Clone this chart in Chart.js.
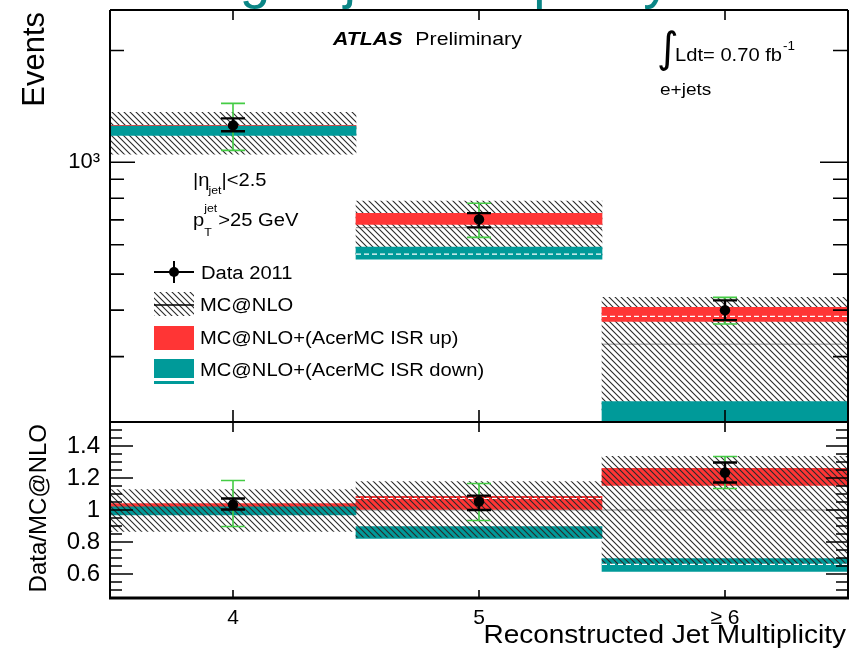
<!DOCTYPE html>
<html>
<head>
<meta charset="utf-8">
<script src="https://cdn.jsdelivr.net/npm/chart.js@4.4.0/dist/chart.umd.min.js"></script>
<style>
  html, body { margin: 0; padding: 0; background: #ffffff; }
  #wrap { position: relative; width: 856px; height: 656px; overflow: hidden; }
  #wrap canvas { position: absolute; left: 0; top: 0; }
</style>
</head>
<body>
<div id="wrap">
  <canvas id="events" width="856" height="656"></canvas>
  <canvas id="ratio" width="856" height="656"></canvas>
</div>
<script>
// ---- jet multiplicity bins ----
const categories = ['4', '5', '\u2265 6'];

// ---- upper panel: event counts ----
const dataEvents   = [1257, 702, 400];
const dataStatLow  = [1212, 668, 376];
const dataStatHigh = [1313, 730, 425];
const dataTotLow   = [1077, 628, 367];
const dataTotHigh  = [1441, 776, 433];
const mcCentral    = [1215, 667, 324];
const mcBandLow    = [1051, 553, 214];
const mcBandHigh   = [1363, 787, 433];
const isrUpLow     = [1240, 681, 373];
const isrUpHigh    = [1258, 729, 407];
const isrUpLine    = [null, null, 385];
const isrDownLow   = [1182, 549, 200];
const isrDownHigh  = [1251, 591, 227];
const isrDownLine  = [null, 566, null];

// ---- lower panel: Data / MC@NLO ----
const ratioData     = [1.034, 1.053, 1.234];
const ratioStatLow  = [1.003, 1.000, 1.172];
const ratioStatHigh = [1.072, 1.090, 1.297];
const ratioTotLow   = [0.897, 0.934, 1.134];
const ratioTotHigh  = [1.184, 1.166, 1.334];
const ratioMcCentral = [1.0, 1.0, 1.0];
const ratioMcLow    = [0.866, 0.830, 0.660];
const ratioMcHigh   = [1.128, 1.178, 1.335];
const ratioUpLow    = [1.020, 1.003, 1.153];
const ratioUpHigh   = [1.040, 1.085, 1.260];
const ratioUpLine   = [null, 1.072, null];
const ratioDownLow  = [0.970, 0.822, 0.616];
const ratioDownHigh = [1.020, 0.897, 0.697];
const ratioDownLine = [null, null, 0.660];

// ---- axis ticks ----
const eventsTicksMajor = [1000];
const eventsTicksMinor = [300, 400, 500, 600, 700, 800, 900, 2000];
const ratioTicksMajor  = [0.6, 0.8, 1, 1.2, 1.4];
const ratioTicksMinor  = [0.5, 0.55, 0.65, 0.7, 0.75, 0.85, 0.9, 0.95, 1.05, 1.1, 1.15, 1.25, 1.3, 1.35, 1.45, 1.5];

const FONT = "'Liberation Sans', Arial, Helvetica, sans-serif";
const SX = 1.12;                 // horizontal text stretch
const RED = '#ff3535';
const TEAL = '#009a99';
const GREEN = '#44cc44';
const HEADING = '#0b8686';

const pairs = (lo, hi) => lo.map((v, i) => [v, hi[i]]);

function hatchPattern() {
  const c = document.createElement('canvas');
  c.width = 6; c.height = 6;
  const g = c.getContext('2d');
  g.strokeStyle = '#2a2a2a';
  g.lineWidth = 1.1;
  g.beginPath();
  g.moveTo(-1, -1); g.lineTo(7, 7);
  g.moveTo(-1, 5);  g.lineTo(1, 7);
  g.moveTo(5, -1);  g.lineTo(7, 1);
  g.stroke();
  return g.createPattern(c, 'repeat');
}
const HATCH = hatchPattern();

function put(ctx, text, x, y, o = {}) {
  const size = o.size || 18;
  const sx = o.sx === undefined ? SX : o.sx;
  ctx.save();
  ctx.font = `${o.style || 'normal'} ${o.weight || 'normal'} ${size}px ${o.family || FONT}`;
  ctx.fillStyle = o.color || '#000';
  ctx.textAlign = o.align || 'left';
  ctx.textBaseline = 'alphabetic';
  ctx.translate(x, y);
  if (o.rotate) ctx.rotate(o.rotate);
  ctx.scale(sx, 1);
  ctx.fillText(text, 0, 0);
  const w = ctx.measureText(text).width * sx;
  ctx.restore();
  return w;
}

// keep the plot frame exactly where the layout padding puts it
function fixedAxis(size, vertical) {
  return function (s) {
    if (vertical) s.width = size; else s.height = size;
    s.paddingTop = 0; s.paddingBottom = 0; s.paddingLeft = 0; s.paddingRight = 0;
  };
}

function binHalf(x) {
  return Math.abs(x.getPixelForValue(1) - x.getPixelForValue(0)) / 2;
}

function hline(ctx, x0, x1, y, color, width, dash) {
  ctx.save();
  ctx.strokeStyle = color;
  ctx.lineWidth = width;
  ctx.setLineDash(dash || []);
  ctx.beginPath();
  ctx.moveTo(x0, y); ctx.lineTo(x1, y);
  ctx.stroke();
  ctx.restore();
}

function errorBar(ctx, px, y0, y1, color, width, cap) {
  ctx.save();
  ctx.strokeStyle = color;
  ctx.lineWidth = width;
  ctx.beginPath();
  ctx.moveTo(px, y0); ctx.lineTo(px, y1);
  ctx.moveTo(px - cap, y0); ctx.lineTo(px + cap, y0);
  ctx.moveTo(px - cap, y1); ctx.lineTo(px + cap, y1);
  ctx.stroke();
  ctx.restore();
}

function drawErrors(chart, totLo, totHi, stLo, stHi) {
  const { ctx, chartArea: a, scales: { x, y } } = chart;
  ctx.save();
  ctx.beginPath(); ctx.rect(a.left, a.top, a.right - a.left, a.bottom - a.top); ctx.clip();
  categories.forEach((c, i) => {
    const px = x.getPixelForValue(i);
    errorBar(ctx, px, y.getPixelForValue(totLo[i]), y.getPixelForValue(totHi[i]), GREEN, 1.6, 12);
    errorBar(ctx, px, y.getPixelForValue(stLo[i]), y.getPixelForValue(stHi[i]), '#000', 2.4, 12);
  });
  ctx.restore();
}

function drawCentral(chart, values, color, width, dash) {
  const { ctx, chartArea: a, scales: { x, y } } = chart;
  const h = binHalf(x);
  ctx.save();
  ctx.beginPath(); ctx.rect(a.left, a.top, a.right - a.left, a.bottom - a.top); ctx.clip();
  values.forEach((v, i) => {
    if (v === null) return;
    const px = x.getPixelForValue(i);
    hline(ctx, px - h, px + h, y.getPixelForValue(v), color, width, dash);
  });
  ctx.restore();
}

function drawFrame(chart, major, minor, o) {
  const { ctx, chartArea: a, scales: { x, y } } = chart;
  ctx.save();
  ctx.strokeStyle = '#000';
  ctx.lineCap = 'butt';
  ctx.lineWidth = 1.6;
  ctx.beginPath();
  major.forEach(v => {
    const py = y.getPixelForValue(v);
    ctx.moveTo(a.left, py); ctx.lineTo(a.left + o.majL, py);
    ctx.moveTo(a.right, py); ctx.lineTo(a.right - o.majR, py);
  });
  minor.forEach(v => {
    const py = y.getPixelForValue(v);
    ctx.moveTo(a.left, py); ctx.lineTo(a.left + o.minL, py);
    ctx.moveTo(a.right, py); ctx.lineTo(a.right - o.minR, py);
  });
  categories.forEach((c, i) => {
    const px = x.getPixelForValue(i);
    ctx.moveTo(px, a.top); ctx.lineTo(px, a.top + o.xTop);
    ctx.moveTo(px, a.bottom); ctx.lineTo(px, a.bottom - o.xBot);
  });
  ctx.stroke();
  ctx.lineWidth = 2;
  ctx.beginPath();
  ctx.moveTo(a.left, a.top); ctx.lineTo(a.right, a.top);
  ctx.moveTo(a.left, a.top); ctx.lineTo(a.left, a.bottom);
  ctx.moveTo(a.right, a.top); ctx.lineTo(a.right, a.bottom);
  ctx.stroke();
  ctx.lineWidth = o.bottomWidth;
  ctx.beginPath();
  ctx.moveTo(a.left - 1, a.bottom); ctx.lineTo(a.right + 1, a.bottom);
  ctx.stroke();
  ctx.restore();
}

const barStyle = { type: 'bar', grouped: false, barPercentage: 1, categoryPercentage: 1, borderWidth: 0 };
const pointStyle = { type: 'line', showLine: false, pointRadius: 5.2, pointHoverRadius: 5.2,
  pointBackgroundColor: '#000', pointBorderColor: '#000', pointBorderWidth: 0, order: 1 };

// ---------------- upper panel ----------------
const eventsPanel = {
  id: 'eventsPanel',
  beforeDatasetsDraw(chart) {
    drawCentral(chart, mcCentral, '#8a8a8a', 1);
  },
  beforeDatasetDraw(chart, args) {
    if (args.meta.type === 'line') drawErrors(chart, dataTotLow, dataTotHigh, dataStatLow, dataStatHigh);
  },
  afterDatasetDraw(chart, args) {
    if (args.index === 2) {
      drawCentral(chart, isrUpLine, '#ffffff', 1.2, [5, 3]);
      drawCentral(chart, isrDownLine, '#ffffff', 1.2, [5, 3]);
    }
  },
  afterDraw(chart) {
    const ctx = chart.ctx;
    drawFrame(chart, eventsTicksMajor, eventsTicksMinor,
      { majL: 25, majR: 28, minL: 14, minR: 15, xTop: 10, xBot: 12, bottomWidth: 2 });

    // slide heading running above the figure
    put(ctx, 'ISR modelling in jet multiplicity', -72, -3, { size: 55, color: HEADING, sx: 1 });

    put(ctx, 'Events', 44, 12, { size: 31, rotate: -Math.PI / 2, align: 'right', sx: 1 });

    const wA = put(ctx, 'ATLAS', 333, 45, { size: 19, weight: 'bold', style: 'italic' });
    put(ctx, 'Preliminary', 333 + wA + 13, 45, { size: 19 });
    put(ctx, '\u222B', 657, 62, { size: 42, family: "'DejaVu Sans', sans-serif", sx: 1 });
    const wL = put(ctx, 'Ldt= 0.70 fb', 675, 61, { size: 18 });
    put(ctx, '-1', 675 + wL + 1, 50, { size: 12 });
    put(ctx, 'e+jets', 660, 95, { size: 17 });

    let cx = 193;
    cx += put(ctx, '|\u03B7', cx, 186, { size: 18 });
    cx += put(ctx, 'jet', cx - 1, 194, { size: 11 });
    put(ctx, '|<2.5', cx - 1, 186, { size: 18 });
    cx = 193;
    cx += put(ctx, 'p', cx, 226, { size: 18 });
    put(ctx, 'T', cx, 236, { size: 11 });
    const wj = put(ctx, 'jet', cx, 212, { size: 11 });
    put(ctx, '>25 GeV', cx + wj + 1, 226, { size: 18 });

    // legend
    ctx.save();
    ctx.strokeStyle = '#000'; ctx.lineWidth = 2;
    ctx.beginPath();
    ctx.moveTo(154, 272); ctx.lineTo(194, 272);
    ctx.moveTo(174, 261); ctx.lineTo(174, 283);
    ctx.stroke();
    ctx.fillStyle = '#000';
    ctx.beginPath(); ctx.arc(174, 272, 5, 0, Math.PI * 2); ctx.fill();
    ctx.fillStyle = HATCH;
    ctx.fillRect(154, 292, 40, 24);
    ctx.beginPath(); ctx.moveTo(154, 305); ctx.lineTo(194, 305);
    ctx.lineWidth = 1.6; ctx.strokeStyle = '#000'; ctx.stroke();
    ctx.fillStyle = RED;
    ctx.fillRect(154, 326, 40, 24);
    ctx.fillStyle = TEAL;
    ctx.fillRect(154, 359, 40, 19);
    ctx.fillRect(154, 381, 40, 3);
    ctx.restore();
    put(ctx, 'Data 2011', 201, 279, { size: 18 });
    put(ctx, 'MC@NLO', 200, 311, { size: 18 });
    put(ctx, 'MC@NLO+(AcerMC ISR up)', 200, 344, { size: 18 });
    put(ctx, 'MC@NLO+(AcerMC ISR down)', 200, 376, { size: 18 });
  }
};

new Chart(document.getElementById('events'), {
  data: {
    labels: categories,
    datasets: [
      { ...barStyle, label: 'MC@NLO', data: pairs(mcBandLow, mcBandHigh), backgroundColor: HATCH, order: 5 },
      { ...barStyle, label: 'MC@NLO+(AcerMC ISR up)', data: pairs(isrUpLow, isrUpHigh), backgroundColor: RED, order: 4 },
      { ...barStyle, label: 'MC@NLO+(AcerMC ISR down)', data: pairs(isrDownLow, isrDownHigh), backgroundColor: TEAL, order: 3 },
      { ...pointStyle, label: 'Data 2011', data: dataEvents }
    ]
  },
  options: {
    responsive: false, animation: false, devicePixelRatio: 1,
    layout: { padding: { left: 50, right: 8, top: 10, bottom: 234 } },
    plugins: { legend: { display: false }, tooltip: { enabled: false }, title: { display: false } },
    scales: {
      x: { type: 'category', offset: true, display: false },
      y: {
        type: 'logarithmic', min: 200, max: 2570, position: 'left',
        grid: { display: false, drawTicks: false }, border: { display: false },
        afterFit: fixedAxis(60, true),
        afterBuildTicks(s) { s.ticks = eventsTicksMajor.map(v => ({ value: v })); },
        ticks: { padding: 10, color: '#000', font: { family: FONT, size: 22 },
                 callback: v => (v === 1000 ? '10\u00B3' : '') }
      }
    }
  },
  plugins: [eventsPanel]
});

// ---------------- lower panel ----------------
const ratioPanel = {
  id: 'ratioPanel',
  beforeDatasetsDraw(chart) {
    drawCentral(chart, ratioMcCentral, '#8a8a8a', 1);
  },
  beforeDatasetDraw(chart, args) {
    if (args.meta.type === 'line') {
      drawCentral(chart, ratioUpLine, '#ffffff', 1.2, [5, 3]);
      drawCentral(chart, ratioDownLine, '#ffffff', 1.2, [5, 3]);
      drawErrors(chart, ratioTotLow, ratioTotHigh, ratioStatLow, ratioStatHigh);
    }
  },
  afterDraw(chart) {
    const ctx = chart.ctx;
    drawFrame(chart, ratioTicksMajor, ratioTicksMinor,
      { majL: 23, majR: 22, minL: 12, minR: 12, xTop: 10, xBot: 8, bottomWidth: 3 });
    put(ctx, 'Data/MC@NLO', 46, 424, { size: 24, rotate: -Math.PI / 2, align: 'right', sx: 1 });
    put(ctx, 'Reconstructed Jet Multiplicity', 846, 643, { size: 25, align: 'right' });
  }
};

new Chart(document.getElementById('ratio'), {
  data: {
    labels: categories,
    datasets: [
      { ...barStyle, label: 'MC@NLO', data: pairs(ratioMcLow, ratioMcHigh), backgroundColor: HATCH, order: 3 },
      { ...barStyle, label: 'MC@NLO+(AcerMC ISR up)', data: pairs(ratioUpLow, ratioUpHigh), backgroundColor: RED, order: 5 },
      { ...barStyle, label: 'MC@NLO+(AcerMC ISR down)', data: pairs(ratioDownLow, ratioDownHigh), backgroundColor: TEAL, order: 4 },
      { ...pointStyle, label: 'Data 2011', data: ratioData }
    ]
  },
  options: {
    responsive: false, animation: false, devicePixelRatio: 1,
    layout: { padding: { left: 50, right: 8, top: 422, bottom: 18 } },
    plugins: { legend: { display: false }, tooltip: { enabled: false }, title: { display: false } },
    scales: {
      x: {
        type: 'category', offset: true,
        grid: { display: false, drawTicks: false }, border: { display: false },
        afterFit: fixedAxis(40, false),
        ticks: { padding: 8, color: '#000', maxRotation: 0, font: { family: FONT, size: 21 } }
      },
      y: {
        type: 'linear', min: 0.45, max: 1.55, position: 'left',
        grid: { display: false, drawTicks: false }, border: { display: false },
        afterFit: fixedAxis(60, true),
        afterBuildTicks(s) { s.ticks = ratioTicksMajor.map(v => ({ value: v })); },
        ticks: { padding: 10, color: '#000', font: { family: FONT, size: 24 },
                 callback: v => String(v) }
      }
    }
  },
  plugins: [ratioPanel]
});
</script>
</body>
</html>
